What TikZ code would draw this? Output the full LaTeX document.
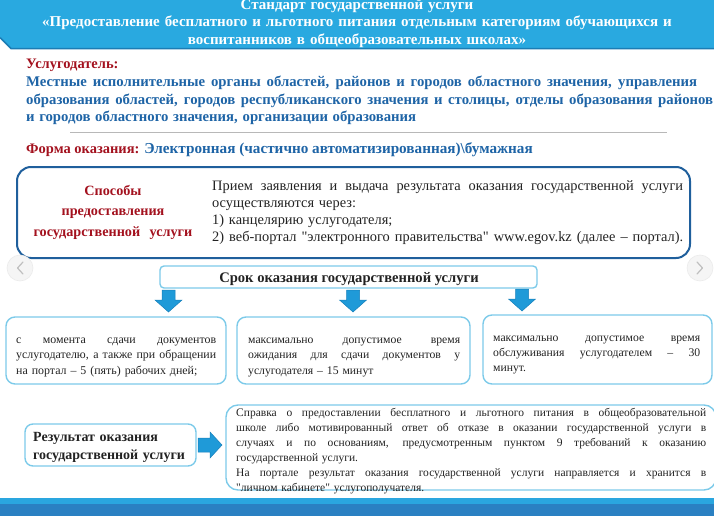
\documentclass[tikz,border=0pt]{standalone}
\usepackage{fontspec}
\setmainfont{Liberation Serif}
\newfontfamily\qf{Liberation Serif}
\definecolor{hdr}{HTML}{29A9E0}
\definecolor{hdrdk}{HTML}{1B7DB5}
\definecolor{dred}{HTML}{A3111E}
\definecolor{tblue}{HTML}{1E64A6}
\definecolor{bigb}{HTML}{1F5F9C}
\definecolor{lb}{HTML}{7CCAE9}
\definecolor{arr}{HTML}{1F9AD8}
\definecolor{arrdk}{HTML}{1780BB}
\definecolor{bandA}{HTML}{2AA6DF}
\definecolor{bandB}{HTML}{2A80C2}
\definecolor{txtc}{HTML}{222222}
\newcommand\jl[2]{\makebox[#1][s]{\spaceskip=0pt\relax\xspaceskip=0pt\relax #2}}
\newcommand\sq{{\qf"}}
\begin{document}
\begin{tikzpicture}[x=1pt,y=-1pt,
  txt/.style={inner sep=0pt, anchor=base west, text=txtc},
  lbox/.style={draw=lb, line width=1.4pt, rounded corners=9pt},
  blockarrow/.style={fill=arr, draw=arrdk, line width=0.5pt},
  navc/.style={fill=black!4, draw=black!8, line width=0.6pt},
  navch/.style={draw=black!25, line width=1.2pt, line cap=round, line join=round}]
\useasboundingbox (0,0) rectangle (714,516);
% header
\fill[hdr] (0,0) -- (714,0) -- (714,48) -- (11,48) -- (0,37) -- cycle;
\draw[hdrdk, line width=1.6pt] (0,37.5) -- (11,48.6) -- (714,48.6);
\node[inner sep=0pt, anchor=base, text width=714pt, align=center, text=white,
  font=\fontsize{15}{17.5}\selectfont\bfseries] (title) at (357,9.5)
  {Стандарт государственной услуги\\
   «Предоставление бесплатного и льготного питания отдельным категориям обучающихся и\\
   воспитанников в общеобразовательных школах»};
% provider
\node[txt, text=dred, font=\fontsize{14.5}{17.3}\selectfont\bfseries] (provlab) at (26,69) {Услугодатель:};
\node[txt, text=tblue, text width=690pt, align=left, font=\fontsize{14.75}{17.4}\selectfont\bfseries] (prov) at (26,87)
  {\jl{671pt}{Местные исполнительные органы областей, районов и городов областного значения, управления}\\
   \jl{687pt}{образования областей, городов республиканского значения и столицы, отделы образования районов}\\
   \jl{390pt}{и городов областного значения, организации образования}};
\draw[black!28, line width=0.9pt] (70,132) -- (667,132);
\node[txt, font=\fontsize{14.5}{17.3}\selectfont\bfseries] (forma) at (26,153)
  {\textcolor{dred}{Форма оказания:} \textcolor{tblue}{\fontsize{15.2}{17.3}\selectfont Электронная (частично автоматизированная)\textbackslash бумажная}};
% ways box
\draw[bigb, line width=2pt, rounded corners=14pt] (17,167) rectangle (690,258);
\node[inner sep=0pt, anchor=base, text width=200pt, align=center, text=dred,
  font=\fontsize{14.2}{20.5}\selectfont\bfseries] (ways) at (113,195)
  {Способы\\ предоставления\\ государственной\ \ услуги};
\node[txt, text width=472pt, align=left, font=\fontsize{14.4}{17.3}\selectfont] (waystxt) at (212,190)
  {\jl{471pt}{Прием заявления и выдача результата оказания государственной услуги}\\
   осуществляются через:\\
   1) канцелярию услугодателя;\\
   \jl{471pt}{2) веб-портал \sq электронного правительства\sq\ www.egov.kz (далее – портал).}};
% nav circles
\filldraw[navc] (20,268) circle (13);
\draw[navch] (23,262) -- (17.5,268) -- (23,274);
\filldraw[navc] (700,268) circle (13);
\draw[navch] (697,262) -- (702.5,268) -- (697,274);
% term box
\draw[lbox, rounded corners=4pt] (160,266) rectangle (537,288);
\node[inner sep=0pt, anchor=base, font=\fontsize{14.6}{16}\selectfont\bfseries, text=txtc] (term) at (349,282)
  {Срок оказания государственной услуги};
% down arrows
\foreach \cx/\ty in {168.5/290, 353/290, 522/289}{
  \filldraw[blockarrow] (\cx-6.5,\ty) -- (\cx+6.5,\ty) -- (\cx+6.5,\ty+10) -- (\cx+13.5,\ty+10)
    -- (\cx,\ty+22) -- (\cx-13.5,\ty+10) -- (\cx-6.5,\ty+10) -- cycle;}
% three boxes
\draw[lbox] (6,317) rectangle (226,384);
\draw[lbox] (237,317) rectangle (470,384);
\draw[lbox] (483,315) rectangle (712,384);
\node[txt, text width=201pt, align=left, font=\fontsize{11.9}{15.5}\selectfont] (t1) at (16,343)
  {\jl{200pt}{с момента сдачи документов}\\
   \jl{200pt}{услугодателю, а также при обращении}\\
   на портал – 5 (пять) рабочих дней;};
\node[txt, text width=213pt, align=left, font=\fontsize{11.7}{15.5}\selectfont] (t2) at (248,343)
  {\jl{212pt}{максимально допустимое время}\\
   \jl{212pt}{ожидания для сдачи документов у}\\
   услугодателя – 15 минут};
\node[txt, text width=208pt, align=left, font=\fontsize{11.7}{15}\selectfont] (t3) at (493,341)
  {\jl{207pt}{максимально допустимое время}\\
   \jl{207pt}{обслуживания услугодателем – 30}\\
   минут.};
% result
\draw[lbox, rounded corners=8pt] (25,424) rectangle (196,466);
\node[txt, text width=165pt, align=left, font=\fontsize{14}{18}\selectfont\bfseries] (reslab) at (33,441)
  {Результат оказания\\ государственной услуги};
\filldraw[blockarrow] (198,438) -- (210,438) -- (210,432) -- (222,445) -- (210,458) -- (210,452) -- (198,452) -- cycle;
\draw[lbox, rounded corners=12pt] (226,405) rectangle (716,490);
\node[txt, text width=471pt, align=left, font=\fontsize{11.5}{15}\selectfont] (restxt) at (236,416)
  {\jl{470pt}{Справка о предоставлении бесплатного и льготного питания в общеобразовательной}\\
   \jl{470pt}{школе либо мотивированный ответ об отказе в оказании государственной услуги в}\\
   \jl{470pt}{случаях и по основаниям, предусмотренным пунктом 9 требований к оказанию}\\
   государственной услуги.\\
   \jl{470pt}{На портале результат оказания государственной услуги направляется и хранится в}\\
   \sq личном кабинете\sq\ услугополучателя.};
% bottom band
\fill[bandA] (0,498) rectangle (714,504);
\fill[bandB] (0,504) rectangle (714,516);
\end{tikzpicture}
\end{document}
